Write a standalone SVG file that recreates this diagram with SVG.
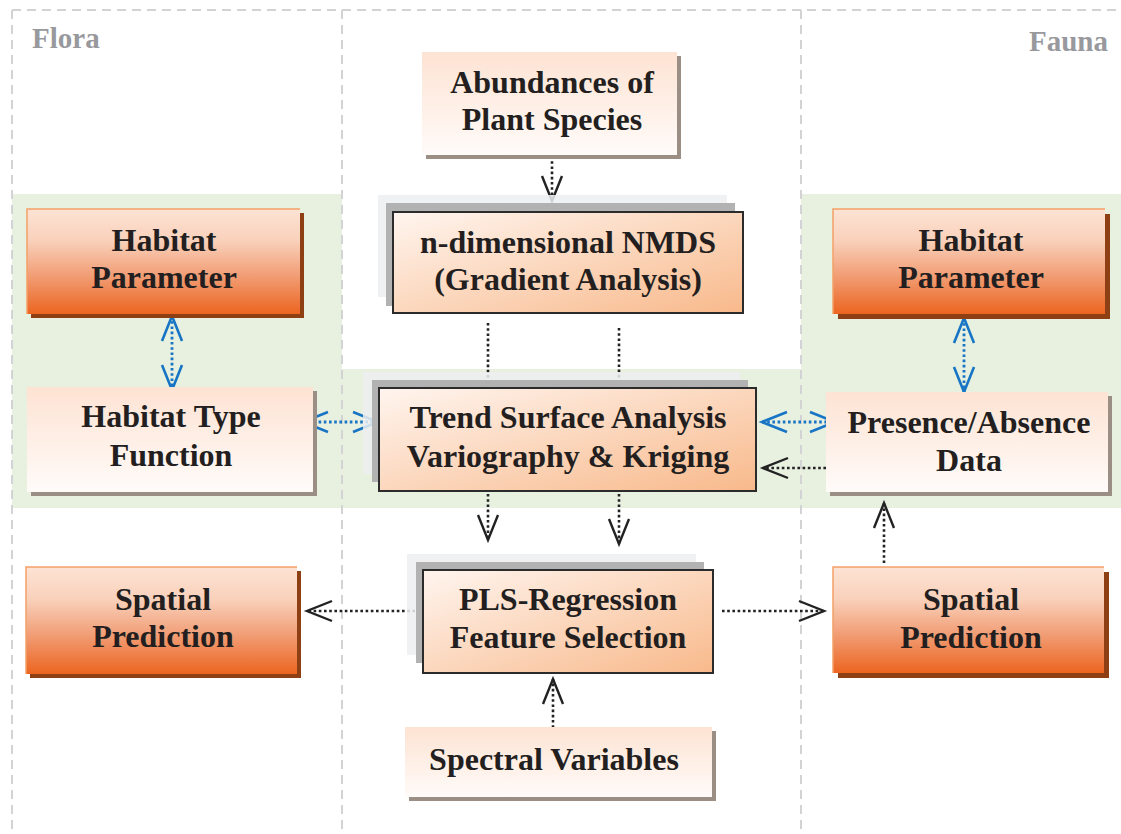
<svg xmlns="http://www.w3.org/2000/svg" width="1121" height="834" viewBox="0 0 1121 834">
<style>
.t{font-family:"Liberation Serif","Times New Roman",serif;font-weight:bold;font-size:32px;fill:#231f20;text-anchor:middle}
.lab{font-family:"Liberation Serif","Times New Roman",serif;font-weight:bold;font-size:29px;fill:#98999d}
.dash{stroke:#d3d3d6;stroke-width:2;stroke-dasharray:9 6;fill:none}
.blk{stroke:#222;stroke-width:2.6;stroke-dasharray:2.6 2.6;fill:none}
.blu{stroke:#1874c4;stroke-width:2.8;stroke-dasharray:2.6 2.6;fill:none}
.lsh{fill:#9b8e84}
.osh{fill:#8e3f14}
.ctr{fill:url(#gC);stroke:#2b2b2b;stroke-width:2}
.s1{fill:#eceef0;opacity:0.85}
.s2{fill:#b2b2b2}
</style>
<defs>
<linearGradient id="gO" x1="0" y1="0" x2="0" y2="1">
<stop offset="0" stop-color="#fde3d4"/>
<stop offset="0.3" stop-color="#f9d1bb"/>
<stop offset="0.65" stop-color="#f19b72"/>
<stop offset="1" stop-color="#ec6520"/>
</linearGradient>
<linearGradient id="gL" x1="0" y1="0" x2="0" y2="1">
<stop offset="0" stop-color="#fde3d3"/>
<stop offset="1" stop-color="#fffbf9"/>
</linearGradient>
<linearGradient id="gC" x1="0" y1="0" x2="1" y2="1">
<stop offset="0" stop-color="#fff5ef"/>
<stop offset="1" stop-color="#f8b98b"/>
</linearGradient>
<marker id="ak" markerUnits="userSpaceOnUse" markerWidth="32" markerHeight="26" refX="26" refY="11" orient="auto-start-reverse" overflow="visible">
<path d="M1,1 L26,11 L1,21" fill="none" stroke="#222" stroke-width="2.4" stroke-dasharray="none"/>
</marker>
<marker id="ab" markerUnits="userSpaceOnUse" markerWidth="32" markerHeight="26" refX="26" refY="11" orient="auto-start-reverse" overflow="visible">
<path d="M1,1 L26,11 L1,21" fill="none" stroke="#1874c4" stroke-width="2.6" stroke-dasharray="none"/>
</marker>
</defs>
<rect width="1121" height="834" fill="#ffffff"/>
<g id="bands">
<rect x="12" y="194" width="330" height="314" fill="#e8f0e0"/>
<rect x="342" y="369" width="459" height="139" fill="#e8f0e0"/>
<rect x="801" y="194" width="320" height="314" fill="#e8f0e0"/>
</g>
<g id="frame">
<path class="dash" d="M12,10 H1121 M12,10 V834 M342,10 V834 M801,10 V834"/>
<text class="lab" x="32" y="48">Flora</text>
<text class="lab" x="1108" y="51" text-anchor="end">Fauna</text>
</g>
<g id="connectors">
<line class="blk" x1="552" y1="156" x2="552" y2="201" marker-end="url(#ak)"/>
<line class="blk" x1="488" y1="323" x2="488" y2="384"/>
<line class="blk" x1="619" y1="328" x2="619" y2="384"/>
<line class="blk" x1="488" y1="494" x2="488" y2="540" marker-end="url(#ak)"/>
<line class="blk" x1="619" y1="494" x2="619" y2="544" marker-end="url(#ak)"/>
<line class="blk" x1="415" y1="611" x2="307" y2="611" marker-end="url(#ak)"/>
<line class="blk" x1="722" y1="611" x2="824" y2="611" marker-end="url(#ak)"/>
<line class="blk" x1="553" y1="733" x2="553" y2="679" marker-end="url(#ak)"/>
<line class="blk" x1="884" y1="563" x2="884" y2="503" marker-end="url(#ak)"/>
<line class="blk" x1="826" y1="468" x2="763" y2="468" marker-end="url(#ak)"/>
<line class="blu" x1="303" y1="422" x2="378" y2="422" marker-start="url(#ab)" marker-end="url(#ab)"/>
<line class="blu" x1="762" y1="422" x2="835" y2="422" marker-start="url(#ab)" marker-end="url(#ab)"/>
<line class="blu" x1="172" y1="316" x2="172" y2="390" marker-start="url(#ab)" marker-end="url(#ab)"/>
<line class="blu" x1="964" y1="318" x2="964" y2="392" marker-start="url(#ab)" marker-end="url(#ab)"/>
</g>
<g id="abundances">
<rect class="lsh" x="426" y="56" width="255" height="103"/>
<rect x="422" y="52" width="255" height="103" fill="url(#gL)"/>
<text class="t" x="552" y="93">Abundances of</text>
<text class="t" x="552" y="130">Plant Species</text>
</g>
<g id="nmds">
<rect class="s1" x="378" y="195" width="349" height="102"/>
<rect class="s2" x="386" y="203" width="349" height="103"/>
<rect class="ctr" x="393" y="212" width="350" height="101"/>
<text class="t" x="568" y="253">n-dimensional NMDS</text>
<text class="t" x="568" y="290">(Gradient Analysis)</text>
</g>
<g id="trend">
<rect class="s1" x="363" y="372" width="377" height="102"/>
<rect class="s2" x="372" y="380" width="376" height="102"/>
<rect class="ctr" x="379" y="388" width="377" height="103"/>
<text class="t" x="568" y="428">Trend Surface Analysis</text>
<text class="t" x="568" y="467">Variography &amp; Kriging</text>
</g>
<g id="pls">
<rect class="s1" x="407" y="554" width="289" height="101"/>
<rect class="s2" x="416" y="562" width="288" height="101"/>
<rect class="ctr" x="423" y="570" width="290" height="103"/>
<text class="t" x="568" y="610">PLS-Regression</text>
<text class="t" x="568" y="648">Feature Selection</text>
</g>
<g id="spectral">
<rect class="lsh" x="409" y="731" width="307" height="70"/>
<rect x="405" y="727" width="307" height="70" fill="url(#gL)"/>
<text class="t" x="554" y="770">Spectral Variables</text>
</g>
<g id="habitat-param-flora">
<rect class="osh" x="31" y="213" width="273" height="105"/>
<rect x="27" y="209" width="273" height="105" fill="url(#gO)"/>
<path d="M27,314 V209 H300" fill="none" stroke="#f4a067" stroke-width="1.5"/>
<text class="t" x="164" y="251">Habitat</text>
<text class="t" x="164" y="288">Parameter</text>
</g>
<g id="habitat-type">
<rect class="lsh" x="31" y="391" width="286" height="105"/>
<rect x="27" y="387" width="286" height="105" fill="url(#gL)"/>
<text class="t" x="171" y="427">Habitat Type</text>
<text class="t" x="171" y="466">Function</text>
</g>
<g id="spatial-flora">
<rect class="osh" x="30" y="571" width="271" height="107"/>
<rect x="26" y="567" width="271" height="107" fill="url(#gO)"/>
<path d="M26,674 V567 H297" fill="none" stroke="#f4a067" stroke-width="1.5"/>
<text class="t" x="163" y="610">Spatial</text>
<text class="t" x="163" y="647">Prediction</text>
</g>
<g id="habitat-param-fauna">
<rect class="osh" x="838" y="214" width="272" height="105"/>
<rect x="833" y="209" width="272" height="105" fill="url(#gO)"/>
<path d="M833,314 V209 H1105" fill="none" stroke="#f4a067" stroke-width="1.5"/>
<text class="t" x="971" y="251">Habitat</text>
<text class="t" x="971" y="288">Parameter</text>
</g>
<g id="presence">
<rect class="lsh" x="830" y="396" width="282" height="100"/>
<rect x="826" y="392" width="282" height="100" fill="url(#gL)"/>
<text class="t" x="969" y="433">Presence/Absence</text>
<text class="t" x="969" y="471">Data</text>
</g>
<g id="spatial-fauna">
<rect class="osh" x="838" y="572" width="271" height="106"/>
<rect x="833" y="567" width="271" height="106" fill="url(#gO)"/>
<path d="M833,673 V567 H1104" fill="none" stroke="#f4a067" stroke-width="1.5"/>
<text class="t" x="971" y="610">Spatial</text>
<text class="t" x="971" y="648">Prediction</text>
</g>
</svg>
